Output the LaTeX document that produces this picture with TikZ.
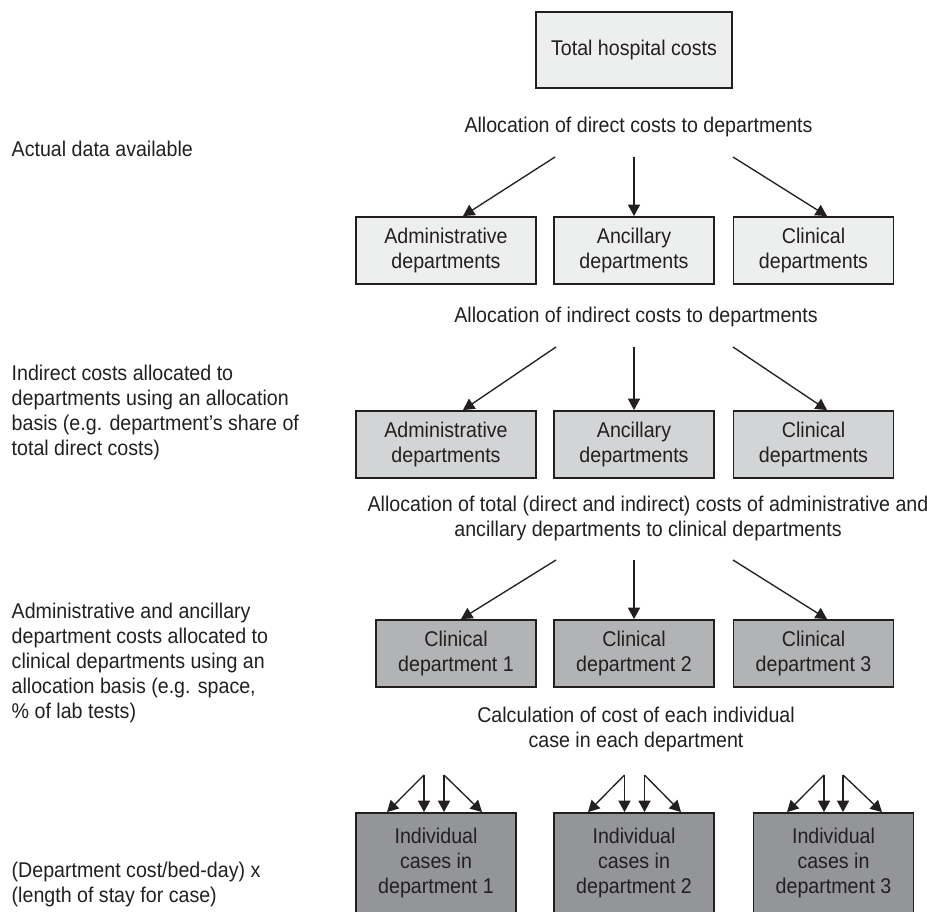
\documentclass[tikz,border=0pt]{standalone}
\usepackage{fontspec}
\setmainfont[FakeStretch=0.92]{Liberation Sans}
\usetikzlibrary{arrows.meta,calc}

\definecolor{ink}{RGB}{35,31,32}
\definecolor{toneA}{RGB}{237,238,238}
\definecolor{toneB}{RGB}{211,212,213}
\definecolor{toneC}{RGB}{177,179,181}
\definecolor{toneD}{RGB}{147,149,152}
\newcommand\diagfont{\fontsize{16}{18.75}\selectfont}

\begin{document}
\begin{tikzpicture}[x=0.75pt,y=-0.75pt,
  every node/.style={text=ink, font=\diagfont},
  box/.style={draw=ink, line width=1.4pt, align=center, inner sep=0pt},
  wide/.style={minimum width=135pt},
  std/.style={minimum width=120pt},
  row/.style={minimum height=50.25pt},
  flow/.style={draw=ink, line width=1pt, -{Triangle[length=8.5pt,width=9pt]}},
  caption/.style={align=center},
  note/.style={align=left, anchor=west}]

\useasboundingbox (0,0) rectangle (927,912);

% top of the hierarchy
\node[box, fill=toneA, minimum width=147pt, minimum height=57pt] (total) at (634,50) {Total hospital costs};
\node[caption, anchor=base] (cap1) at (638.5,133) {Allocation of direct costs to departments};

% direct costs
\node[box, fill=toneA, wide, row] (a1) at (446,250.5) {Administrative\\departments};
\node[box, fill=toneA, std, row] (b1) at (634,250.5) {Ancillary\\departments};
\node[box, fill=toneA, std, row] (c1) at (813.5,250.5) {Clinical\\departments};
\coordinate (s1l) at (555,157);
\coordinate (s1m) at (634,157);
\coordinate (s1r) at (733,157);
\draw[flow] (s1l) -- ($(a1.north)+(17,0)$);
\draw[flow] (s1m) -- (b1.north);
\draw[flow] (s1r) -- ($(c1.north)+(13.5,0)$);

% indirect costs
\node[caption, anchor=base] (cap2) at (636,323) {Allocation of indirect costs to departments};
\node[box, fill=toneB, wide, row] (a2) at (446,444.5) {Administrative\\departments};
\node[box, fill=toneB, std, row] (b2) at (634,444.5) {Ancillary\\departments};
\node[box, fill=toneB, std, row] (c2) at (813.5,444.5) {Clinical\\departments};
\coordinate (s2l) at (556,347);
\coordinate (s2m) at (634,347);
\coordinate (s2r) at (733,347);
\draw[flow] (s2l) -- ($(a2.north)+(17,0)$);
\draw[flow] (s2m) -- (b2.north);
\draw[flow] (s2r) -- ($(c2.north)+(13.5,0)$);

% reallocation to clinical departments
\node[caption] (cap3) at (648,518) {Allocation of total (direct and indirect) costs of administrative and\\ancillary departments to clinical departments};
\node[box, fill=toneC, std, row] (a3) at (456,653.5) {Clinical\\department 1};
\node[box, fill=toneC, std, row] (b3) at (634,653.5) {Clinical\\department 2};
\node[box, fill=toneC, std, row] (c3) at (813.5,653.5) {Clinical\\department 3};
\coordinate (s3l) at (556,560);
\coordinate (s3m) at (634,560);
\coordinate (s3r) at (733,560);
\draw[flow] (s3l) -- ($(a3.north)+(5,0)$);
\draw[flow] (s3m) -- (b3.north);
\draw[flow] (s3r) -- ($(c3.north)+(13.5,0)$);

% individual cases
\node[caption] (cap4) at (636,729) {Calculation of cost of each individual\\case in each department};
\node[box, fill=toneD, std, minimum height=75pt] (a4) at (436,863) {Individual\\cases in\\department 1};
\node[box, fill=toneD, std, minimum height=75pt] (b4) at (634,863) {Individual\\cases in\\department 2};
\node[box, fill=toneD, std, minimum height=75pt] (c4) at (833.5,863) {Individual\\cases in\\department 3};

\coordinate (s4a) at (424,775);
\coordinate (s4b) at (444,775);
\draw[flow] (s4a) -- ($(a4.north)+(-49,0)$);
\draw[flow] (s4a) -- ($(a4.north)+(-12,0)$);
\draw[flow] (s4b) -- ($(a4.north)+(8,0)$);
\draw[flow] (s4b) -- ($(a4.north)+(46,0)$);

\coordinate (s4c) at (624.5,775);
\coordinate (s4d) at (644.5,775);
\draw[flow] (s4c) -- ($(b4.north)+(-46,0)$);
\draw[flow] (s4c) -- ($(b4.north)+(-9.5,0)$);
\draw[flow] (s4d) -- ($(b4.north)+(10.5,0)$);
\draw[flow] (s4d) -- ($(b4.north)+(47,0)$);

\coordinate (s4e) at (824,775);
\coordinate (s4f) at (843,775);
\draw[flow] (s4e) -- ($(c4.north)+(-46.5,0)$);
\draw[flow] (s4e) -- ($(c4.north)+(-9.5,0)$);
\draw[flow] (s4f) -- ($(c4.north)+(9.5,0)$);
\draw[flow] (s4f) -- ($(c4.north)+(48.5,0)$);

% explanations on the left
\node[note] (n1) at (7,149) {Actual data available};
\node[note] (n2) at (7,412) {Indirect costs allocated to\\departments using an allocation\\basis (e.g. department’s share of\\total direct costs)};
\node[note] (n3) at (7,663) {Administrative and ancillary\\department costs allocated to\\clinical departments using an\\allocation basis (e.g. space,\\\% of lab tests)};
\node[note] (n4) at (7,884.5) {(Department cost/bed-day) x\\(length of stay for case)};
\end{tikzpicture}
\end{document}
